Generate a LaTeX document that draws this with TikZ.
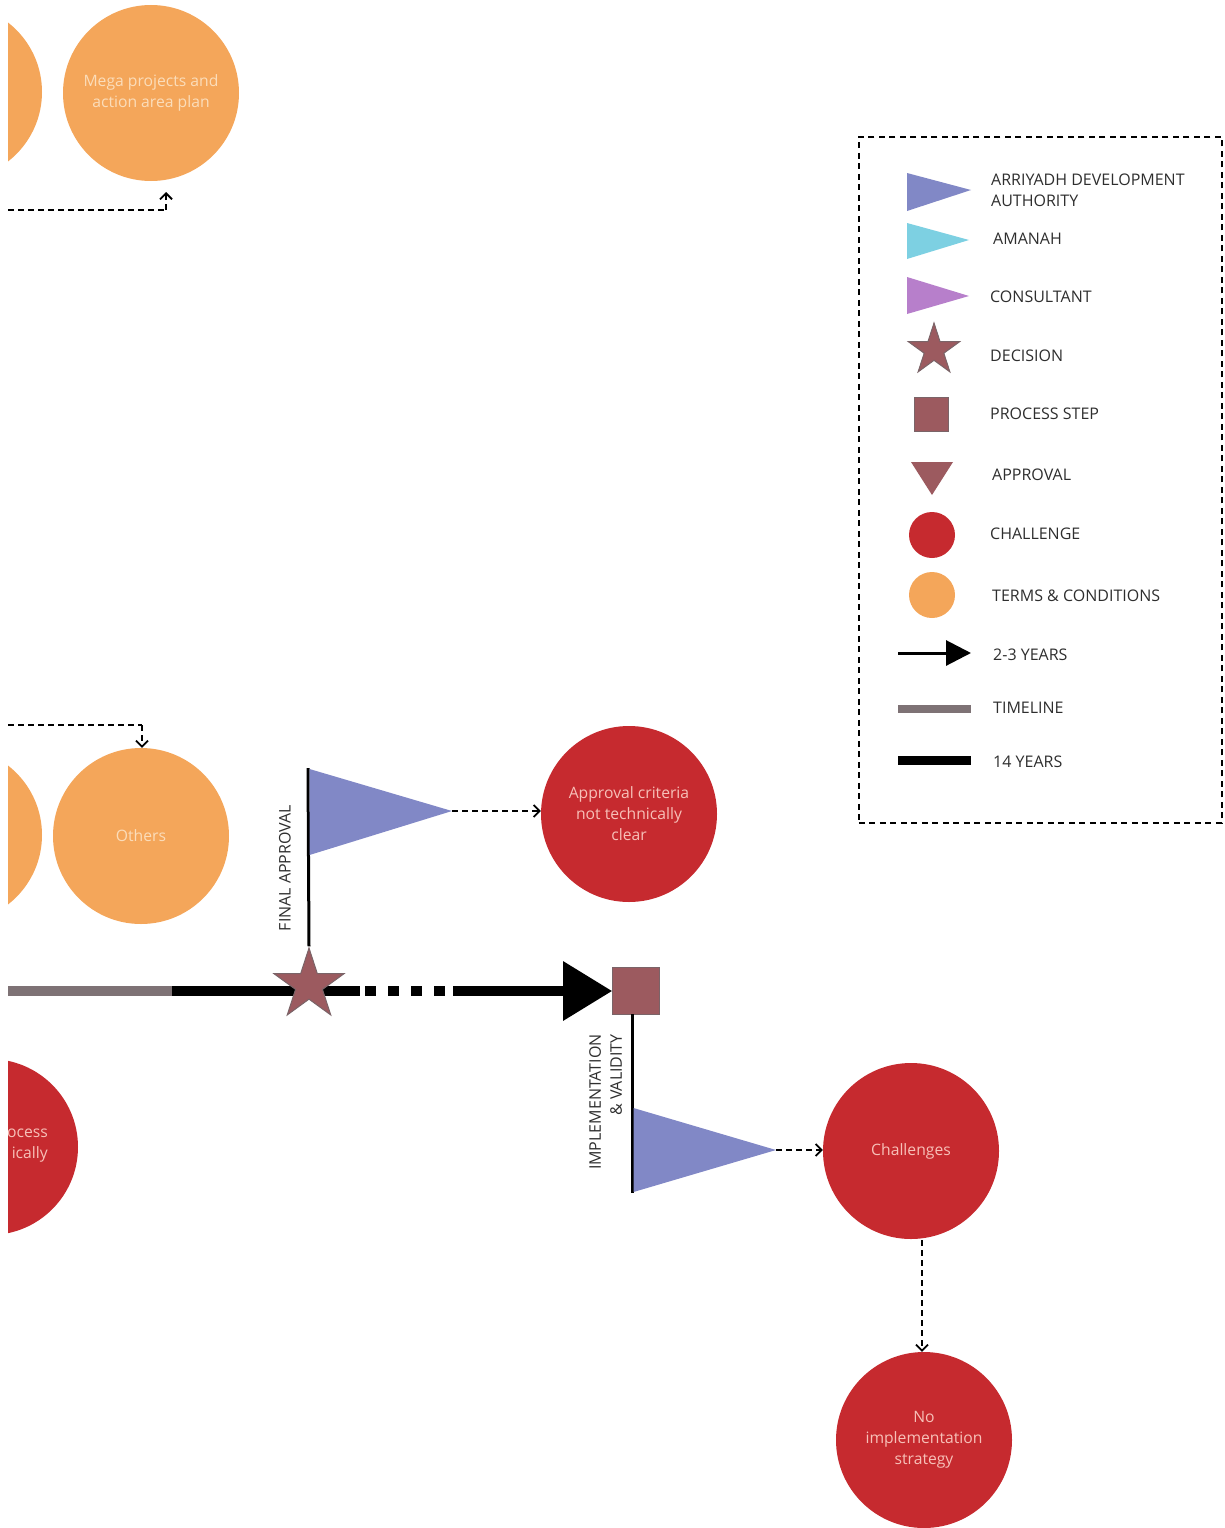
\documentclass[tikz,border=0pt]{standalone}
\usepackage{fontspec}
\setmainfont{Open Sans}
\usetikzlibrary{shapes.geometric,arrows.meta,backgrounds}
\definecolor{tcorange}{HTML}{F4A65A}
\definecolor{tctext}{HTML}{FBDDBA}
\definecolor{chred}{HTML}{C62A2F}
\definecolor{chtext}{HTML}{F7C0B8}
\definecolor{adablue}{HTML}{8188C6}
\definecolor{amcyan}{HTML}{7DD0E2}
\definecolor{conlilac}{HTML}{B77FCB}
\definecolor{mauve}{HTML}{9C5A5F}
\definecolor{mauveedge}{HTML}{7A6468}
\definecolor{tlgray}{HTML}{7E7275}
\definecolor{legtxt}{HTML}{2E2E2E}
\tikzset{
  base/.style={font=\fontsize{15.7}{21}\selectfont},
  legfont/.style={font=\fontsize{16}{21}\selectfont},
  tcircle/.style={base, circle, fill=tcorange, minimum size=176pt, inner sep=0pt, text=tctext, align=center},
  chcircle/.style={base, circle, fill=chred, minimum size=176pt, inner sep=0pt, text=chtext, align=center},
  conn/.style={line width=1.8pt, dash pattern=on 6pt off 4pt, -{Straight Barb[length=6pt,width=12pt,line width=1.8pt]}},
  plainconn/.style={line width=1.8pt, dash pattern=on 6pt off 4pt},
  legtext/.style={legfont, anchor=west, text=legtxt, align=left, inner sep=0pt},
  sidelabel/.style={legfont, rotate=90, text=legtxt, inner sep=0pt},
  decstar/.style={star, star points=5, star point ratio=2.618, fill=mauve, draw=mauveedge, line width=1pt, inner sep=0pt},
  procsq/.style={rectangle, fill=mauve, draw=mauveedge, line width=0.6pt, inner sep=0pt},
  pole/.style={line width=3pt, black},
  thickline/.style={line width=9.5pt, black},
}
\begin{document}
\begin{tikzpicture}[x=1pt,y=-1pt]
\useasboundingbox (0,0) rectangle (1224,1528);
\clip (8,0) rectangle (1224,1528);

% ---------- terms & conditions circles (top) ----------
\node[tcircle] (tcA) at (-46,92) {};
\node[tcircle] (mega) at (151,93) {Mega projects and\\action area plan};
\coordinate (d1s) at (8,210);
\coordinate (d1c) at (166,210);
\coordinate (d1e) at (166,192);
\draw[plainconn] (d1s) -- (d1c);
\draw[conn] (d1c) -- (d1e);

% ---------- terms & conditions circles (middle) ----------
\node[tcircle] (tcB) at (-46,835) {};
\node[tcircle] (others) at (141,836) {Others};
\coordinate (d2s) at (8,725);
\coordinate (d2c) at (142,725);
\draw[plainconn] (d2s) -- (d2c);
\draw[conn] (d2c) -- (d2c |- others.north);

% ---------- partial challenge circle (left) ----------
\node[chcircle] (chL) at (-10,1147) {};
\node[base, text=chtext, align=right, anchor=east, inner sep=0pt] (chLtext) at (48,1146) {ocess\\ically};

% ---------- timeline ----------
\node[decstar, minimum size=74pt] (dec) at (309,985) {};
\node[procsq, minimum size=47pt] (ps) at (636,991) {};
\coordinate (tl0) at (8,991);
\coordinate (tl1) at (172,991);
\coordinate (tl2) at (360,991);
\coordinate (tl3) at (365,991);
\coordinate (tl4) at (447,991);
\coordinate (tl5) at (453,991);
\begin{scope}[on background layer]
  \draw[line width=9.5pt, tlgray] (tl0) -- (tl1);
  \draw[thickline] (tl1) -- (tl2);
  \draw[thickline, dash pattern=on 11pt off 12pt] (tl3) -- (tl4);
  \draw[thickline, -{Triangle[length=49pt,width=57pt]}] (tl5) -- (ps.west);
\end{scope}

% ---------- final approval flag ----------
\coordinate (faTop) at (308,768);
\coordinate (faTip) at (452,811);
\begin{scope}[on background layer]
  \draw[pole] (dec.north) -- (faTop);
\end{scope}
\fill[adablue] (309.5,769) -- (309.5,855) -- (faTip) -- cycle;
\node[sidelabel] (falab) at (285,868) {FINAL APPROVAL};
\node[chcircle] (crit) at (629,814) {Approval criteria\\not technically\\clear};
\draw[conn] (faTip) -- (faTip -| crit.west);

% ---------- implementation flag ----------
\coordinate (ivBot) at (632,1193);
\coordinate (ivTip) at (776,1150);
\draw[pole] (632,1014) -- (ivBot);
\fill[adablue] (633.5,1108) -- (633.5,1192) -- (ivTip) -- cycle;
\node[sidelabel, align=right, anchor=north east] (ivlab) at (589,1034) {IMPLEMENTATION\\\& VALIDITY};
\node[chcircle] (chal) at (911,1151) {Challenges};
\node[chcircle] (noimpl) at (924,1440) {No\\implementation\\strategy};
\draw[conn] (ivTip) -- (ivTip -| chal.west);
\coordinate (c2s) at (922,1240);
\draw[conn] (c2s) -- (c2s |- noimpl.north);

% ---------- legend ----------
\node[draw=black, line width=1.6pt, dash pattern=on 6pt off 4.5pt, minimum width=363pt, minimum height=686pt, anchor=north west, inner sep=0pt] (legend) at (858,136) {};
\fill[adablue] (907,173) -- (907,211) -- (971,190) -- cycle;
\node[legtext] (l1) at (991,190.5) {ARRIYADH DEVELOPMENT\\AUTHORITY};
\fill[amcyan] (907,223) -- (907,259) -- (969,240) -- cycle;
\node[legtext] (l2) at (993,239) {AMANAH};
\fill[conlilac] (907,277) -- (907,314) -- (969,296) -- cycle;
\node[legtext] (l3) at (990,297) {CONSULTANT};
\node[decstar, minimum size=54pt] (lstar) at (934,350) {};
\node[legtext] (l4) at (990,356) {DECISION};
\node[procsq, minimum size=34pt] (lsq) at (931,414) {};
\node[legtext] (l5) at (990,414) {PROCESS STEP};
\fill[mauve] (911,462) -- (953,462) -- (932,495) -- cycle;
\node[legtext] (l6) at (992,475) {APPROVAL};
\node[circle, fill=chred, minimum size=46pt, inner sep=0pt] (lch) at (932,535) {};
\node[legtext] (l7) at (990,534) {CHALLENGE};
\node[circle, fill=tcorange, minimum size=46pt, inner sep=0pt] (ltc) at (932,595) {};
\node[legtext] (l8) at (992,596) {TERMS \& CONDITIONS};
\coordinate (la0) at (898,653);
\coordinate (la1) at (971,653);
\draw[line width=3pt, -{Triangle[length=25pt,width=25pt]}] (la0) -- (la1);
\node[legtext] (l9) at (993,655) {2-3 YEARS};
\coordinate (lt0) at (898,709);
\coordinate (lt1) at (971,709);
\draw[line width=8pt, tlgray] (lt0) -- (lt1);
\node[legtext] (l10) at (993,708) {TIMELINE};
\coordinate (lb0) at (898,760);
\coordinate (lb1) at (971,760);
\draw[line width=9pt, black] (lb0) -- (lb1);
\node[legtext] (l11) at (993,762) {14 YEARS};
\end{tikzpicture}
\end{document}
